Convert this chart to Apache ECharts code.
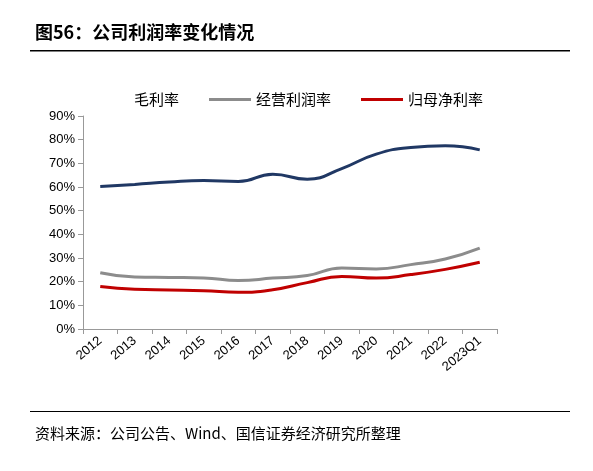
<!DOCTYPE html><html><head><meta charset="utf-8"><script src="https://cdn.jsdelivr.net/npm/echarts@6/dist/echarts.min.js"></script></head><body style="margin:0"><div id="c" style="width:593px;height:471px"></div><script>
const categories=['2012','2013','2014','2015','2016','2017','2018','2019','2020','2021','2022','2023Q1'];
const gross=[60.2,61.1,62.1,62.7,62.3,65.4,63.3,67.8,73.9,76.7,77.4,75.7];
const operating=[23.8,22.0,21.8,21.6,20.5,21.5,22.6,25.8,25.4,27.2,29.6,34.2];
const net=[18.0,16.8,16.5,16.2,15.5,16.6,19.6,22.2,21.5,23.0,25.2,28.2];
const yTicks=[0,10,20,30,40,50,60,70,80,90];
const F='"Noto Sans CJK SC", sans-serif';
const ch=echarts.init(document.getElementById('c'));
ch.setOption({
 animation:false,
 graphic:[
  {type:'text',left:35,top:23,style:{text:'图56：公司利润率变化情况',font:'bold 18px '+F,fill:'#000'}},
  {type:'rect',shape:{x:30,y:50,width:540,height:1.5},style:{fill:'#000'}},
  {type:'rect',shape:{x:30,y:411,width:540,height:1},style:{fill:'#000'}},
  {type:'text',left:35,top:426,style:{text:'资料来源：公司公告、Wind、国信证券经济研究所整理',font:'15px '+F,fill:'#000'}}
 ],
 legend:{top:87,left:82,itemWidth:42,itemHeight:3,itemGap:30,icon:'rect',textStyle:{fontSize:15,fontFamily:F,color:'#000'},data:['毛利率','经营利润率','归母净利率']},
 grid:{left:83,right:96,top:116,bottom:142},
 xAxis:{type:'category',data:categories,boundaryGap:true,axisLine:{lineStyle:{color:'#999'}},axisTick:{show:true,lineStyle:{color:'#999'}},axisLabel:{rotate:40,fontSize:13,color:'#000',interval:0,margin:10}},
 yAxis:{type:'value',min:0,max:90,interval:10,splitLine:{show:false},axisLine:{show:true,lineStyle:{color:'#999'}},axisTick:{show:true,lineStyle:{color:'#999'}},axisLabel:{fontSize:13,color:'#000',formatter:v=>yTicks.includes(v)?v+'%':''}},
 series:[
  {name:'毛利率',type:'line',smooth:true,symbol:'circle',symbolSize:1,showSymbol:true,data:gross,lineStyle:{width:3,color:'#203864'},itemStyle:{color:'#203864',opacity:0},
   label:{show:true,position:'top',distance:18,offset:[8,0],formatter:p=>p.value.toFixed(1)+'%',fontSize:13,fontFamily:'"DejaVu Sans Mono", monospace',color:'#000'}},
  {name:'经营利润率',type:'line',smooth:true,symbol:'none',data:operating,lineStyle:{width:3,color:'#8c8c8c'},itemStyle:{color:'#8c8c8c'}},
  {name:'归母净利率',type:'line',smooth:true,symbol:'none',data:net,lineStyle:{width:3,color:'#c00000'},itemStyle:{color:'#c00000'}}
 ]
});
</script></body></html>
